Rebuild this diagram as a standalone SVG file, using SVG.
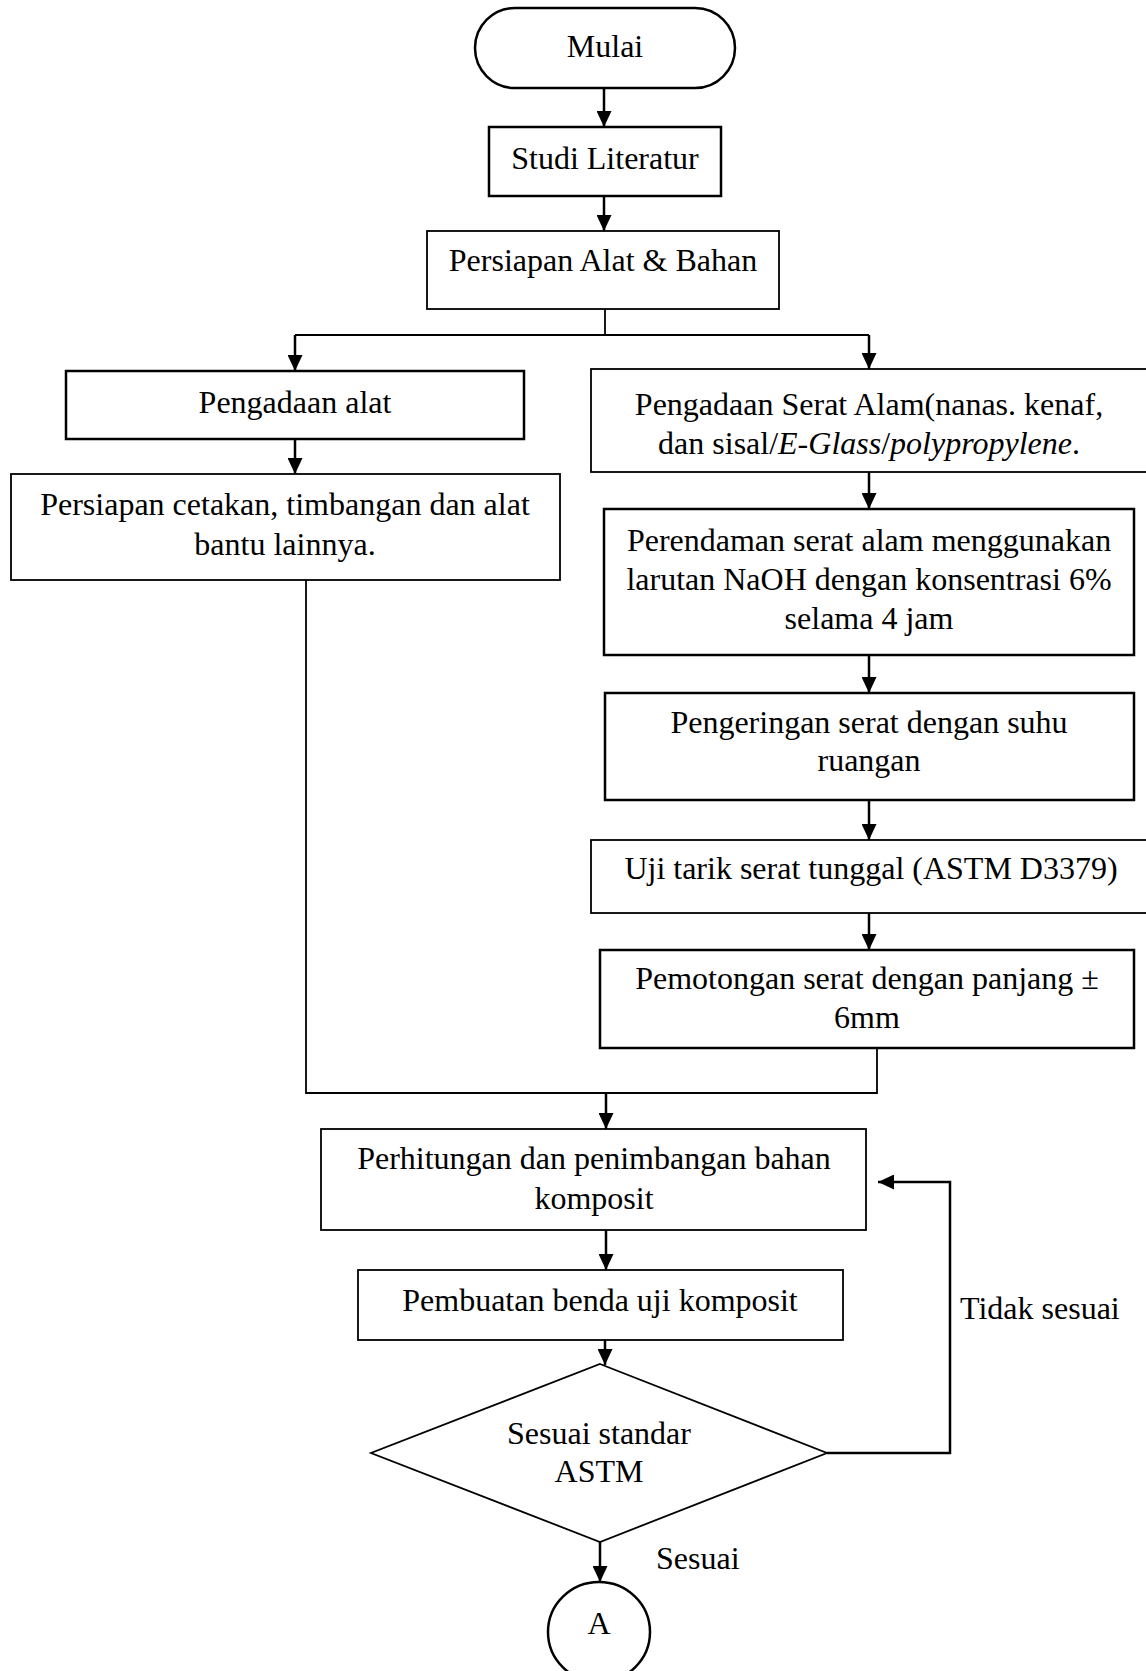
<svg xmlns="http://www.w3.org/2000/svg" width="1146" height="1671" viewBox="0 0 1146 1671">
<defs>
<marker id="ah" markerWidth="16" markerHeight="15" refX="16" refY="7.5" orient="auto" markerUnits="userSpaceOnUse" viewBox="0 0 16 15">
<path d="M0,0 L16,7.5 L0,15 Z" fill="#000"/>
</marker>
</defs>
<style>
text{font-family:"Liberation Serif","Times New Roman",serif;font-size:32px;fill:#000;text-anchor:middle}
.b{fill:#fff;stroke:#000;stroke-width:2.5}
.t{fill:#fff;stroke:#000;stroke-width:1.8}
.c{fill:none;stroke:#000;stroke-width:2.5}
.c1{fill:none;stroke:#000;stroke-width:1.8}
</style>
<rect width="1146" height="1671" fill="#fff"/>
<g id="connectors">
<path class="c" d="M604,88 V127" marker-end="url(#ah)"/>
<path class="c" d="M604,196 V231" marker-end="url(#ah)"/>
<path class="c1" d="M605,309 V335"/>
<path class="c1" d="M295,335 H869"/>
<path class="c" d="M295,335 V371" marker-end="url(#ah)"/>
<path class="c" d="M869,335 V369" marker-end="url(#ah)"/>
<path class="c" d="M295,439 V474" marker-end="url(#ah)"/>
<path class="c" d="M869,472 V509" marker-end="url(#ah)"/>
<path class="c" d="M869,655 V693" marker-end="url(#ah)"/>
<path class="c" d="M869,800 V840" marker-end="url(#ah)"/>
<path class="c" d="M869,913 V950" marker-end="url(#ah)"/>
<path class="c1" d="M306,580 V1093 H877 V1048"/>
<path class="c" d="M606,1093 V1129" marker-end="url(#ah)"/>
<path class="c" d="M606,1230 V1270" marker-end="url(#ah)"/>
<path class="c" d="M605,1340 V1365" marker-end="url(#ah)"/>
<path class="c" d="M827,1453 H950 V1182 H878" marker-end="url(#ah)"/>
<path class="c" d="M600,1542 V1582" marker-end="url(#ah)"/>
</g>
<g id="n-mulai">
<rect class="b" x="475" y="8" width="260" height="80" rx="40" ry="40"/>
<text x="605" y="57">Mulai</text>
</g>
<g id="n-studi">
<rect class="b" x="489" y="127" width="232" height="69"/>
<text x="605" y="169">Studi Literatur</text>
</g>
<g id="n-persiapan">
<rect class="t" x="427" y="231" width="352" height="78"/>
<text x="603" y="271">Persiapan Alat &amp; Bahan</text>
</g>
<g id="n-pengadaan-alat">
<rect class="b" x="66" y="371" width="458" height="68"/>
<text x="295" y="413">Pengadaan alat</text>
</g>
<g id="n-persiapan-cetakan">
<rect class="t" x="11" y="474" width="549" height="106"/>
<text x="285" y="515">Persiapan cetakan, timbangan dan alat</text>
<text x="285" y="555">bantu lainnya.</text>
</g>
<g id="n-pengadaan-serat">
<rect class="t" x="591" y="369" width="560" height="103"/>
<text x="869" y="415">Pengadaan Serat Alam(nanas. kenaf,</text>
<text x="869" y="454">dan sisal/<tspan font-style="italic">E-Glass</tspan>/<tspan font-style="italic">polypropylene</tspan>.</text>
</g>
<g id="n-perendaman">
<rect class="b" x="604" y="509" width="530" height="146"/>
<text x="869" y="551">Perendaman serat alam menggunakan</text>
<text x="869" y="590">larutan NaOH dengan konsentrasi 6%</text>
<text x="869" y="629">selama 4 jam</text>
</g>
<g id="n-pengeringan">
<rect class="b" x="605" y="693" width="529" height="107"/>
<text x="869" y="733">Pengeringan serat dengan suhu</text>
<text x="869" y="771">ruangan</text>
</g>
<g id="n-uji">
<rect class="t" x="591" y="840" width="560" height="73"/>
<text x="871" y="879">Uji tarik serat tunggal (ASTM D3379)</text>
</g>
<g id="n-pemotongan">
<rect class="b" x="600" y="950" width="534" height="98"/>
<text x="867" y="989">Pemotongan serat dengan panjang ±</text>
<text x="867" y="1028">6mm</text>
</g>
<g id="n-perhitungan">
<rect class="t" x="321" y="1129" width="545" height="101"/>
<text x="594" y="1169">Perhitungan dan penimbangan bahan</text>
<text x="594" y="1209">komposit</text>
</g>
<g id="n-pembuatan">
<rect class="t" x="358" y="1270" width="485" height="70"/>
<text x="600" y="1311">Pembuatan benda uji komposit</text>
</g>
<g id="n-decision">
<polygon class="t" points="600,1364 827,1453 600,1542 371,1453"/>
<text x="599" y="1444">Sesuai standar</text>
<text x="599" y="1482">ASTM</text>
</g>
<g id="n-a">
<ellipse class="c" cx="599" cy="1632" rx="51" ry="50" fill="#fff"/>
<text x="599" y="1634">A</text>
</g>
<g id="labels">
<text x="960" y="1319" style="text-anchor:start">Tidak sesuai</text>
<text x="656" y="1569" style="text-anchor:start">Sesuai</text>
</g>
</svg>
